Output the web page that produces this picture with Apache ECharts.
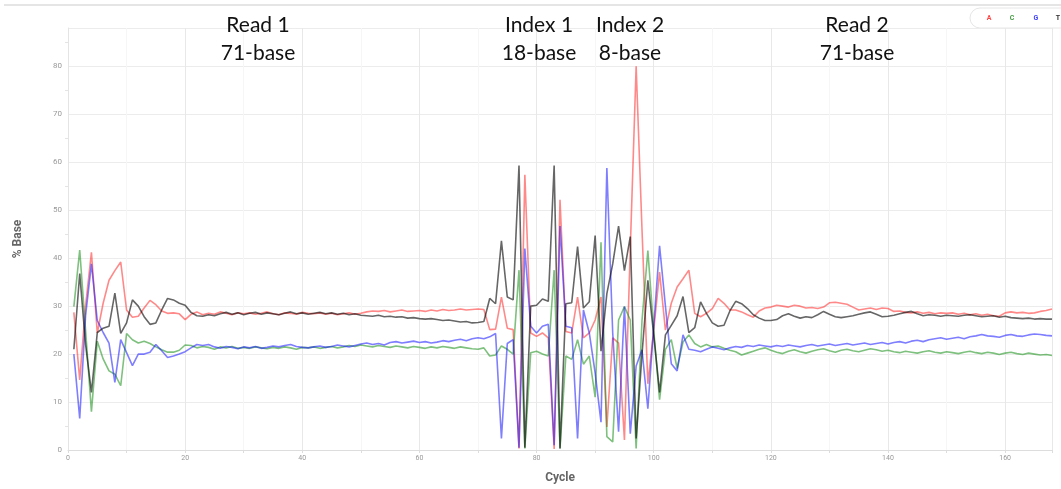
<!DOCTYPE html>
<html>
<head>
<meta charset="utf-8">
<script src="https://cdn.jsdelivr.net/npm/echarts@6/dist/echarts.min.js"></script>
<style>
  html, body { margin: 0; padding: 0; background: #fff; }
  #chart { width: 1061px; height: 489px; }
</style>
</head>
<body>
<div id="chart"></div>
<script>
// % base per cycle (cycles 1..168)
const baseA = [
  28.7, 14.6, 30, 41.2, 24.4, 30.6, 35.4, 37.4, 39.2, 29.2,
  27.7, 27.9, 29.6, 31.2, 30.3, 29.0, 28.5, 28.6, 28.4, 27.2,
  28.3, 28.8, 28.2, 28.5, 28.3, 28.8, 28.5, 28.2, 28.6, 28.4,
  28.6, 28.3, 28.5, 28.8, 28.4, 28.2, 28.6, 28.5, 28.3, 28.7,
  28.5, 28.4, 28.6, 28.3, 28.5, 28.2, 28.4, 28.6, 28.3, 28.5,
  28.8, 29.0, 28.9, 29.1, 28.8, 29.0, 29.2, 28.9, 29.0, 29.1,
  28.9, 29.2, 29.0, 29.3, 29.1, 29.2, 29.4, 29.2, 29.3, 29.4,
  29.3, 25.1, 25.2, 31.9, 25.4, 25.1, 0.3, 57.4, 24.4, 23.7,
  24.4, 23.4, 0.2, 52.2, 24.7, 24.4, 31.9, 23.4, 24.4, 27.1,
  31.9, 4.8, 23.4, 22.3, 2.1, 42, 80, 46, 13.8, 25,
  37.1, 25, 30.6, 34, 35.7, 37.5, 28.5, 27.8, 28.5, 29.5,
  31.6, 30.6, 29.2, 29.2, 28.8, 28.2, 27.7, 29.0, 29.6, 29.8,
  30.2, 30.0, 29.8, 30.2, 30.0, 29.6, 29.7, 29.5, 29.8, 30.7,
  30.8, 30.6, 30.4, 29.8, 29.2, 29.4, 29.6, 29.3, 29.6, 29.5,
  28.9, 29.0, 28.7, 28.6, 28.8, 28.5, 28.7, 28.4, 28.6, 28.5,
  28.6, 28.3, 28.5, 28.2, 28.4, 28.1, 28.3, 28.0, 27.9, 28.6,
  28.8, 28.6, 28.7, 28.5, 28.6, 28.9, 29.1, 29.4
];
const baseC = [
  29.9, 41.7, 25, 8.0, 22.7, 19, 16.5, 15.8, 13.4, 24.3,
  23.0, 22.3, 22.7, 22.2, 21.5, 20.9, 20.4, 20.4, 20.8, 21.9,
  21.8, 21.3, 21.6, 21.4, 21.0, 21.5, 21.3, 21.6, 21.2, 21.4,
  21.2, 21.5, 21.3, 21.1, 21.4, 21.2, 21.5, 21.3, 21.0, 21.4,
  21.3, 21.5, 21.2, 21.4, 21.6, 21.3, 21.5, 21.8, 21.6, 21.9,
  21.7, 21.5, 21.8, 21.6, 21.4, 21.7, 21.5, 21.3, 21.6, 21.4,
  21.2, 21.5, 21.3, 21.6, 21.4, 21.2, 21.5, 21.3, 21.1, 21.0,
  21.3, 19.6, 19.8, 21.7, 21.0, 20.0, 37.5, 0.3, 20.3, 20.6,
  20.0, 19.6, 37.5, 0.3, 19.6, 18.9, 23.0, 17.9, 19.6, 11.0,
  43.3, 2.8, 1.7, 27.1, 29.9, 27.1, 0.3, 27, 41.6, 25,
  10.5, 21, 23, 17, 22.5, 24, 22.2, 21.5, 22, 21.5,
  21.7, 21.2, 20.8, 20.5, 19.8, 20.2, 20.6, 21.0, 21.3, 20.8,
  20.4, 20.1, 20.6, 20.9, 20.5, 20.2, 20.6, 20.9, 21.1, 20.7,
  20.4, 20.8, 21.0, 20.7, 20.5, 20.8, 21.1, 20.9, 20.6, 20.8,
  20.5, 20.3, 20.6, 20.4, 20.2, 20.5, 20.7, 20.4, 20.2, 20.5,
  20.3, 20.1, 20.4, 20.6, 20.3, 20.1, 20.4, 20.2, 19.9, 20.2,
  20.4, 20.1, 19.9, 20.2, 20.0, 19.8, 19.9, 19.7
];
const baseG = [
  20, 6.6, 28, 38.8, 27, 24.5, 22.3, 14.1, 23, 20.3,
  17.6, 20, 20, 20.4, 22, 20.7, 19.3, 19.6, 20, 20.5,
  21.3, 22, 21.8, 22, 21.5, 21.2, 21.6, 21.4, 21.1, 21.5,
  21.3, 21.6, 21.2, 21.4, 21.7, 21.5, 21.8, 22.0, 21.6, 21.4,
  21.3, 21.5, 21.7, 21.4, 21.6, 21.9, 21.7, 21.5, 21.8, 22.1,
  22.3, 22.0, 22.2, 21.9, 22.4, 22.6, 22.3, 22.5, 22.7, 22.4,
  22.6, 22.3, 22.5, 22.8, 22.6, 22.9, 23.1, 22.8, 23.2, 23.4,
  23.2, 23.6, 24.3, 2.4, 22.2, 23.0, 0.5, 42, 25.8, 24.4,
  25.8, 26.2, 1.0, 46.7, 25.8, 25.5, 2.4, 29.2, 24.4, 16.1,
  5.8, 58.8, 24.4, 3.8, 29.9, 3.4, 17.5, 20.9, 8.6, 25.8,
  42.6, 30, 18, 16.5, 24, 21, 20.8, 20.5, 21.0, 21.5,
  21.2, 20.9, 21.3, 21.6, 21.4, 21.8, 21.6, 21.9, 21.7, 21.5,
  21.8, 21.6, 21.9, 21.7, 21.5, 21.8, 22.0, 21.7, 21.9, 22.1,
  21.8, 22.0, 22.2, 21.9, 22.1, 22.3, 22.0, 22.2, 22.4, 22.1,
  22.4, 22.6, 22.3, 22.7, 22.9, 22.6, 23.0, 23.2, 23.4, 23.1,
  23.3, 23.5, 23.2, 23.6, 23.8, 24.1, 23.8, 23.7, 23.5, 23.9,
  24.1, 23.8, 23.7, 24.0, 24.2, 24.1, 23.9, 23.8
];
const baseT = [
  21, 36.8, 22, 12, 24.5, 25.4, 25.8, 32.7, 24.3, 26.5,
  31.3, 30, 27.8, 26.2, 26.5, 29.2, 31.6, 31.3, 30.6, 30.2,
  28.7, 28.0, 27.9, 28.2, 28.0, 28.4, 28.7, 28.3, 28.6, 28.2,
  28.5, 28.7, 28.3, 28.6, 28.4, 28.2, 28.5, 28.8, 28.4, 28.6,
  28.3, 28.5, 28.7, 28.4, 28.6, 28.3, 28.5, 28.2, 28.4, 28.1,
  28.0, 27.9, 28.1, 27.8, 27.9, 27.7, 27.8, 27.5, 27.6, 27.4,
  27.3, 27.4, 27.2, 27.0, 27.1, 26.9, 26.7, 26.8, 26.5, 26.6,
  26.8, 31.6, 30.5, 43.6, 31.9, 31.3, 59.3, 0.5, 30, 30.2,
  31.5, 31, 59.3, 0.3, 30.5, 30.7, 42.4, 29.6, 30.9, 44.7,
  20.6, 32.6, 38.8, 46.7, 37.4, 44.5, 2.4, 20, 35.4, 24,
  12, 24, 26, 28, 32, 24.5, 25.5, 30.9, 28.5, 26.5,
  25.8, 26, 29, 31, 30.5, 29.5, 28.2, 27.5, 27.0, 27.0,
  27.2, 28.0, 28.4, 27.9, 27.5, 27.8, 27.6, 28.2, 28.9, 28.3,
  27.8, 27.6, 27.8, 28.0, 28.3, 28.6, 28.8, 28.3, 27.8, 27.9,
  28.1, 28.4, 28.7, 28.9, 28.4, 28.0, 28.2, 28.1, 27.9, 28.1,
  28.0, 27.9, 28.1, 28.2, 28.0, 27.8, 27.9, 28.0, 27.7, 27.9,
  27.6, 27.5, 27.4, 27.5, 27.3, 27.4, 27.3, 27.3
];

const baseNames = ['A', 'C', 'G', 'T'];
const baseColors = ['rgba(255,40,40,0.55)', 'rgba(20,140,20,0.55)', 'rgba(20,20,255,0.55)', 'rgba(0,0,0,0.6)'];
const legendColors = ['#f44', '#494', '#44f', '#333'];
const legendX = [989, 1012, 1036, 1058];

// read annotations above the plot
const readLabels = [
  { x: 258, title: 'Read 1', len: '71-base' },
  { x: 539, title: 'Index 1', len: '18-base' },
  { x: 630, title: 'Index 2', len: '8-base' },
  { x: 857, title: 'Read 2', len: '71-base' }
];

const chart = echarts.init(document.getElementById('chart'));

const toPoints = arr => arr.map((v, i) => [i + 1, v]);
const allData = [baseA, baseC, baseG, baseT];

const option = {
  animation: false,
  backgroundColor: '#fff',
  grid: { left: 68, right: 9, top: 28, bottom: 34 },
  xAxis: {
    type: 'value',
    min: 0,
    max: 168,
    interval: 20,
    name: 'Cycle',
    nameLocation: 'middle',
    nameGap: 22,
    nameTextStyle: { fontSize: 12, fontWeight: 'bold', color: '#666', fontFamily: 'Roboto' },
    axisLine: { lineStyle: { color: '#ddd' } },
    axisTick: { show: true, length: 3, lineStyle: { color: '#ddd' } },
    minorTick: { show: true, splitNumber: 2, length: 3, lineStyle: { color: '#ddd' } },
    axisLabel: { fontSize: 7, color: '#999', margin: 5, showMaxLabel: false, fontFamily: 'Roboto' },
    splitLine: { show: true, lineStyle: { color: '#e8e8e8' } },
    minorSplitLine: { show: true, lineStyle: { color: '#f6f6f6' } }
  },
  yAxis: {
    type: 'value',
    min: 0,
    max: 88,
    interval: 10,
    name: '% Base',
    nameLocation: 'middle',
    nameGap: 44,
    nameTextStyle: { fontSize: 12, fontWeight: 'bold', color: '#666', fontFamily: 'Roboto' },
    axisLine: { show: true, lineStyle: { color: '#e4e4e4' } },
    axisTick: { show: false },
    minorTick: { show: true, splitNumber: 2, length: 3, lineStyle: { color: '#e4e4e4' } },
    axisLabel: {
      fontSize: 8, color: '#999', margin: 6, fontFamily: 'Roboto',
      formatter: v => (v % 10 === 0 ? String(v) : '')
    },
    splitLine: { show: true, lineStyle: { color: '#ececec' } }
  },
  graphic: [
    { type: 'line', shape: { x1: 4, y1: 5, x2: 1061, y2: 5 }, style: { stroke: '#ddd', lineWidth: 1.5 } },
    // legend pill, clipped at the right edge as in the source
    {
      type: 'rect',
      shape: { x: 970, y: 8, width: 110, height: 20, r: 10 },
      style: { fill: '#fff', stroke: '#e6e6e6', lineWidth: 1 }
    }
  ].concat(baseNames.map((n, i) => ({
    type: 'text',
    x: legendX[i],
    y: 18,
    style: {
      text: n,
      align: 'center',
      verticalAlign: 'middle',
      fill: legendColors[i],
      font: 'bold 7px Roboto'
    }
  }))).concat(readLabels.map(r => ({
    type: 'text',
    x: r.x,
    y: 11,
    z: 10,
    style: {
      text: r.title + '\n' + r.len,
      align: 'center',
      verticalAlign: 'top',
      fill: '#111',
      font: '21px Lato',
      lineHeight: 28
    }
  }))),
  series: baseNames.map((n, i) => ({
    name: n,
    type: 'line',
    symbol: 'none',
    data: toPoints(allData[i]),
    color: legendColors[i],
    lineStyle: { color: baseColors[i], width: 1.6 }
  }))
};

chart.setOption(option);
</script>
</body>
</html>
